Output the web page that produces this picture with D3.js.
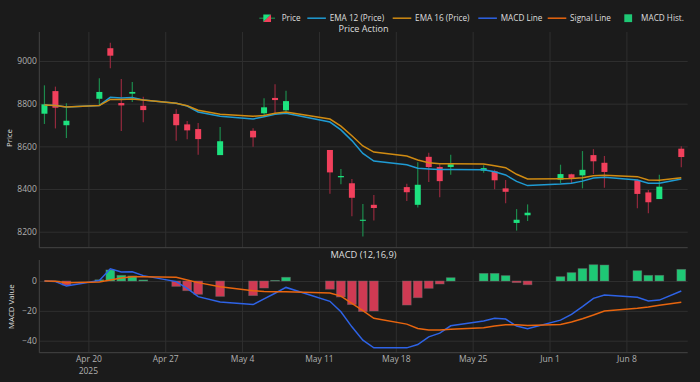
<!DOCTYPE html>
<html>
<head>
<meta charset="utf-8">
<script src="https://cdn.jsdelivr.net/npm/d3@7"></script>
<style>
  body { margin: 0; background: #1b1b1b; }
  svg { display: block; font-family: "Open Sans", sans-serif; }
</style>
</head>
<body>
<svg id="root"></svg>
<script>
// Price action + MACD panels, dark theme

// Trading days shown on the chart
const dates = [
  "2025-04-16", "2025-04-17", "2025-04-18", "2025-04-21", "2025-04-22", "2025-04-23", "2025-04-24", "2025-04-25",
  "2025-04-28", "2025-04-29", "2025-04-30", "2025-05-02", "2025-05-05", "2025-05-06", "2025-05-07", "2025-05-08",
  "2025-05-12", "2025-05-13", "2025-05-14", "2025-05-15", "2025-05-16", "2025-05-19", "2025-05-20", "2025-05-21",
  "2025-05-22", "2025-05-23", "2025-05-26", "2025-05-27", "2025-05-28", "2025-05-29", "2025-05-30", "2025-06-02",
  "2025-06-03", "2025-06-04", "2025-06-05", "2025-06-06", "2025-06-09", "2025-06-10", "2025-06-11", "2025-06-13"
];

// OHLC
const open = [
  8753, 8859, 8699, 8823, 9060, 8803, 8847, 8790, 8752, 8703, 8681, 8559,
  8673, 8755, 8827, 8769, 8583, 8455, 8427, 8251, 8326, 8409, 8326, 8551,
  8503, 8503, 8486, 8483, 8403, 8241, 8277, 8444, 8469, 8464, 8559, 8523,
  8441, 8384, 8353, 8589
];
const high = [
  8886, 8880, 8802, 8919, 9086, 8916, 8902, 8833, 8774, 8719, 8709, 8691,
  8685, 8825, 8891, 8861, 8583, 8494, 8447, 8330, 8372, 8425, 8525, 8570,
  8516, 8561, 8512, 8490, 8442, 8306, 8328, 8514, 8472, 8578, 8587, 8555,
  8445, 8395, 8467, 8600
];
const low = [
  8705, 8684, 8639, 8789, 8966, 8672, 8808, 8713, 8626, 8633, 8561, 8559,
  8598, 8742, 8752, 8762, 8378, 8422, 8272, 8178, 8253, 8344, 8314, 8433,
  8361, 8467, 8476, 8399, 8333, 8205, 8250, 8427, 8428, 8403, 8470, 8406,
  8310, 8286, 8353, 8502
];
const close = [
  8797, 8781, 8720, 8855, 9025, 8792, 8855, 8770, 8699, 8675, 8634, 8624,
  8642, 8783, 8817, 8812, 8478, 8461, 8359, 8256, 8311, 8385, 8420, 8503,
  8437, 8516, 8498, 8441, 8387, 8256, 8289, 8470, 8452, 8490, 8530, 8480,
  8377, 8338, 8411, 8550
];

// Moving averages
const ema12 = [
  8794, 8792, 8784, 8792, 8830, 8827, 8829, 8817, 8802, 8789, 8761, 8741,
  8728, 8739, 8750, 8755, 8714, 8677, 8627, 8567, 8531, 8514, 8497, 8494,
  8492, 8492, 8490, 8481, 8466, 8436, 8416, 8423, 8427, 8437, 8452, 8455,
  8442, 8427, 8427, 8447
];
const ema16 = [
  8794, 8792, 8785, 8792, 8820, 8820, 8822, 8817, 8802, 8790, 8769, 8750,
  8741, 8745, 8755, 8761, 8728, 8695, 8650, 8602, 8573, 8555, 8536, 8523,
  8519, 8519, 8517, 8509, 8500, 8469, 8447, 8448, 8449, 8453, 8462, 8464,
  8458, 8442, 8441, 8453
];

// MACD (12,16,9)
const macdLine = [
  0, -0.4, -3.4, 0.3, 8.2, 6.0, 6.2, 3.6, -0.4, -4.9, -10.5, -14.1,
  -15.8, -12.0, -8.2, -4.3, -13.6, -20.6, -30.7, -39.6, -44.8, -44.8, -42.6, -37.4,
  -34.9, -30.0, -26.8, -25.0, -25.5, -30.2, -32.0, -26.2, -22.4, -17.2, -11.6, -9.4,
  -10.9, -13.4, -12.8, -6.7
];
const signalLine = [
  0, -0.2, -1.1, -0.6, 0.7, 2.0, 2.9, 2.9, 2.5, 0.7, -1.1, -3.8,
  -6.5, -7.0, -7.2, -7.2, -8.1, -10.1, -15.0, -19.9, -25.0, -28.9, -31.8, -32.9,
  -32.9, -32.4, -31.3, -30.2, -29.3, -29.3, -29.8, -29.1, -27.5, -25.3, -22.8, -20.1,
  -18.3, -17.4, -16.3, -14.3
];
const macdHist = [
  0, -0.2, -2.7, 0.8, 7.4, 3.8, 3.4, 0.7, -3.6, -6.5, -8.9, -10.3,
  -9.8, -4.7, 0.4, 2.5, -5.5, -10.7, -15.8, -20.5, -20.1, -16.1, -11.2, -4.9,
  -2.0, 2.2, 5.1, 5.1, 3.6, -1.1, -2.5, 2.9, 5.6, 8.3, 10.9, 10.7,
  6.9, 3.8, 3.8, 7.8
];

// Ticks
const priceTicks = [8200, 8400, 8600, 8800, 9000];
const macdTicks = [-40, -20, 0];
const dateTicks = ["2025-04-20", "2025-04-27", "2025-05-04", "2025-05-11", "2025-05-18", "2025-05-25", "2025-06-01", "2025-06-08"];

const legendItems = [
  { label: "Price", kind: "candle" },
  { label: "EMA 12 (Price)", kind: "line", color: "#1f9bd3" },
  { label: "EMA 16 (Price)", kind: "line", color: "#d08b12" },
  { label: "MACD Line", kind: "line", color: "#2e63e6" },
  { label: "Signal Line", kind: "line", color: "#e8650e" },
  { label: "MACD Hist.", kind: "box", color: "#1ec875" }
];

// ---- layout ----
const W = 700, H = 382;
const plotLeft = 39.3, plotRight = 687.7;
const priceTop = 32, priceBottom = 247.7;
const macdTop = 260, macdBottom = 352.7;

const UP = "#1de27f", DOWN = "#f2405c";
const UP_WICK = "#1c8a4c", DOWN_WICK = "#93293d";
const GRID = "#2f2f2f", AXIS = "#444";
const TICK_TEXT = "#b0b0b0", TEXT = "#dedede";

const parse = d3.timeParse("%Y-%m-%d");
const days = dates.map(parse);

const svg = d3.select("#root").attr("width", W).attr("height", H);

const x = d3.scaleTime()
  .domain([new Date(2025, 3, 15, 12, 45), new Date(2025, 5, 13, 14, 0)])
  .range([plotLeft, plotRight]);
const yPrice = d3.scaleLinear([8125, 9136], [priceBottom, priceTop]);
const yMacd = d3.scaleLinear([-48.04, 14.07], [macdBottom, macdTop]);

const dayPx = x(new Date(2025, 4, 2)) - x(new Date(2025, 4, 1));

function styleAxis(g) {
  g.select(".domain").remove();
  g.selectAll(".tick line").attr("stroke", GRID).attr("stroke-width", 1);
  g.selectAll(".tick text").attr("fill", TICK_TEXT).attr("font-size", 8.5).attr("font-family", "Open Sans");
}

// ---- grids + axes ----
function panel(top, bottom, yScale, ticks, showDates) {
  // vertical grid
  svg.append("g")
    .attr("transform", `translate(0,${bottom})`)
    .call(d3.axisBottom(x).tickValues(dateTicks.map(parse)).tickSize(-(bottom - top))
      .tickFormat(showDates ? d3.timeFormat("%b %-d") : () => ""))
    .call(styleAxis)
    .call((g) => g.selectAll(".tick text").attr("y", 3.6).attr("dy", "0.71em"));

  // horizontal grid
  svg.append("g")
    .attr("transform", `translate(${plotLeft},0)`)
    .call(d3.axisLeft(yScale).tickValues(ticks).tickSize(-(plotRight - plotLeft)).tickPadding(2.5)
      .tickFormat(d3.format("d")))
    .call(styleAxis);

  // axis lines
  svg.append("line").attr("x1", plotLeft).attr("x2", plotLeft).attr("y1", top).attr("y2", bottom)
    .attr("stroke", AXIS);
  svg.append("line").attr("x1", plotLeft).attr("x2", plotRight).attr("y1", bottom).attr("y2", bottom)
    .attr("stroke", AXIS);
}

panel(priceTop, priceBottom, yPrice, priceTicks, false);
panel(macdTop, macdBottom, yMacd, macdTicks, true);

// year under first date tick
svg.append("text")
  .attr("x", x(parse(dateTicks[0])))
  .attr("y", 373.5)
  .attr("text-anchor", "middle")
  .attr("fill", TICK_TEXT)
  .attr("font-size", 8.5)
  .text("2025");

// ---- candles ----
const ohlc = days.map((d, i) => ({ d, o: open[i], h: high[i], l: low[i], c: close[i] }));
const candle = svg.append("g").selectAll("g").data(ohlc).join("g");
candle.append("line")
  .attr("x1", (d) => x(d.d)).attr("x2", (d) => x(d.d))
  .attr("y1", (d) => yPrice(d.h)).attr("y2", (d) => yPrice(d.l))
  .attr("stroke", (d) => (d.c >= d.o ? UP_WICK : DOWN_WICK))
  .attr("stroke-width", 1.2);
candle.append("rect")
  .attr("x", (d) => x(d.d) - 3)
  .attr("width", 6)
  .attr("y", (d) => yPrice(Math.max(d.o, d.c)))
  .attr("height", (d) => Math.max(1, Math.abs(yPrice(d.o) - yPrice(d.c))))
  .attr("fill", (d) => (d.c >= d.o ? UP : DOWN));

// ---- EMA lines ----
const priceLine = d3.line().x((d, i) => x(days[i])).y((d) => yPrice(d));
svg.append("path").datum(ema12).attr("fill", "none").attr("stroke", legendItems[1].color)
  .attr("stroke-width", 1.5).attr("d", priceLine);
svg.append("path").datum(ema16).attr("fill", "none").attr("stroke", legendItems[2].color)
  .attr("stroke-width", 1.5).attr("d", priceLine);

// ---- MACD ----
const barW = dayPx * 0.8;
svg.append("g").selectAll("rect").data(macdHist).join("rect")
  .attr("x", (d, i) => x(days[i]) - barW / 2)
  .attr("width", barW)
  .attr("y", (d) => yMacd(Math.max(0, d)))
  .attr("height", (d) => Math.abs(yMacd(d) - yMacd(0)))
  .attr("fill", (d) => (d >= 0 ? "#1ec875" : "#cf3a53"))
  .attr("stroke", "rgba(110,110,110,0.55)")
  .attr("stroke-width", 0.8);

const macdPath = d3.line().x((d, i) => x(days[i])).y((d) => yMacd(d));
svg.append("path").datum(macdLine).attr("fill", "none").attr("stroke", legendItems[3].color)
  .attr("stroke-width", 1.5).attr("d", macdPath);
svg.append("path").datum(signalLine).attr("fill", "none").attr("stroke", legendItems[4].color)
  .attr("stroke-width", 1.5).attr("d", macdPath);

// ---- titles ----
const midX = (plotLeft + plotRight) / 2;
svg.append("text").attr("x", midX).attr("y", 28.6).attr("dy", "0.35em").attr("text-anchor", "middle")
  .attr("fill", TEXT).attr("font-size", 9.1).text("Price Action");
svg.append("text").attr("x", midX).attr("y", 254.5).attr("dy", "0.35em").attr("text-anchor", "middle")
  .attr("fill", TEXT).attr("font-size", 9.3).text("MACD (12,16,9)");

svg.append("text").attr("transform", "translate(9,138) rotate(-90)").attr("dy", "0.35em")
  .attr("text-anchor", "middle").attr("fill", TEXT).attr("font-size", 7.8).text("Price");
svg.append("text").attr("transform", "translate(11.7,306.7) rotate(-90)").attr("dy", "0.35em")
  .attr("text-anchor", "middle").attr("fill", TEXT).attr("font-size", 7.8).text("MACD Value");

// ---- legend ----
const legendX = [259.3, 307.3, 392.7, 478.3, 547.7, 618.7];
const legendY = 18.2;
const legend = svg.append("g").selectAll("g").data(legendItems).join("g")
  .attr("transform", (d, i) => `translate(${legendX[i]},${legendY})`);

legend.filter((d) => d.kind === "line").append("line")
  .attr("x1", 0).attr("x2", 18.6).attr("stroke", (d) => d.color).attr("stroke-width", 1.5);

const candleIcon = legend.filter((d) => d.kind === "candle");
candleIcon.append("line").attr("x1", 0).attr("x2", 15.7).attr("stroke", UP_WICK).attr("stroke-width", 1.2);
candleIcon.append("path").attr("d", "M4,-3.7 L11.7,-3.7 L4,3.7 Z").attr("fill", UP);
candleIcon.append("path").attr("d", "M11.7,-3.7 L11.7,3.7 L4,3.7 Z").attr("fill", DOWN);

legend.filter((d) => d.kind === "box").append("rect")
  .attr("x", 5.6).attr("y", -3.9).attr("width", 7.8).attr("height", 7.8).attr("fill", (d) => d.color);

legend.append("text")
  .attr("x", 22.4)
  .attr("dy", "0.35em")
  .attr("fill", TEXT)
  .attr("font-size", 8.2)
  .text((d) => d.label);
</script>
</body>
</html>
